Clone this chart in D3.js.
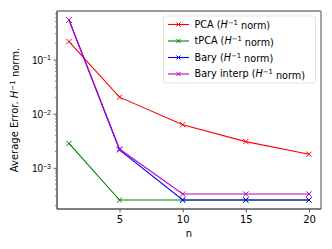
<!DOCTYPE html>
<html><head><meta charset="utf-8">
<script src="https://cdn.jsdelivr.net/npm/d3@7"></script>
<style>
body{margin:0;background:#fff}
svg{font-family:"DejaVu Sans",sans-serif}
</style></head>
<body>
<svg id="c" width="332" height="249"></svg>
<script>
const nValues = [1, 5, 10, 15, 20];
const pca = [0.215, 0.0202, 0.00626, 0.00305, 0.00178];
const tpca = [0.00282, 0.000254, 0.000254, 0.000254, 0.000254];
const bary = [0.538, 0.00215, 0.000254, 0.000254, 0.000254];
const baryInterp = [0.538, 0.00222, 0.000328, 0.000328, 0.000328];
const xTicks = [5, 10, 15, 20];
const yTicks = [1e-3, 1e-2, 1e-1];
const seriesNames = ["PCA", "tPCA", "Bary", "Bary interp"];
const seriesColors = ["#ff0000", "#008000", "#0000ff", "#bf00bf"];
const seriesData = [pca, tpca, bary, baryInterp];

const svg = d3.select("#c");
const L = 57, R = 321, T = 11, B = 209;
const x = d3.scaleLinear().domain([0.05, 20.95]).range([L, R]);
const y = d3.scaleLog().domain([Math.pow(10, -3.761), Math.pow(10, -0.103)]).range([B, T]);

// x axis
const gx = svg.append("g").attr("transform", `translate(0,${B})`)
  .call(d3.axisBottom(x).tickValues(xTicks).tickSize(3.5).tickPadding(3).tickFormat(d3.format("d")));
gx.select(".domain").remove();
gx.selectAll("line").attr("stroke", "#333").attr("stroke-width", 0.8);
gx.selectAll("text").attr("font-size", 10).attr("fill", "#000").attr("font-family", "DejaVu Sans");

// y axis major
const gy = svg.append("g").attr("transform", `translate(${L},0)`)
  .call(d3.axisLeft(y).tickValues(yTicks).tickSize(3.5).tickPadding(3).tickFormat(""));
gy.select(".domain").remove();
gy.selectAll("line").attr("stroke", "#333").attr("stroke-width", 0.8);
gy.selectAll(".tick").each(function(d){
  const e = Math.round(Math.log10(d));
  const t = d3.select(this).append("text").attr("x", -6).attr("dy", "0.35em")
    .attr("text-anchor", "end").attr("fill", "#000").attr("font-size", 10);
  t.append("tspan").text("10");
  t.append("tspan").attr("dy", "-0.45em").attr("font-size", 7).text("\u2212" + Math.abs(e));
});
// minor ticks
const minor = [];
for (let e = -4; e <= 0; e++) for (let m = 2; m <= 9; m++) {
  const v = m * Math.pow(10, e);
  if (v >= y.domain()[0] && v <= y.domain()[1]) minor.push(v);
}
svg.append("g").selectAll("line").data(minor).join("line")
  .attr("x1", L - 2).attr("x2", L).attr("y1", d => y(d)).attr("y2", d => y(d))
  .attr("stroke", "#333").attr("stroke-width", 0.6);

// spines
svg.append("line").attr("x1", L).attr("x2", R).attr("y1", T).attr("y2", T).attr("stroke", "#999").attr("stroke-width", 1.8);
svg.append("line").attr("x1", R).attr("x2", R).attr("y1", T).attr("y2", B).attr("stroke", "#999").attr("stroke-width", 1.8);
svg.append("line").attr("x1", L).attr("x2", R).attr("y1", B).attr("y2", B).attr("stroke", "#555").attr("stroke-width", 1.5);
svg.append("line").attr("x1", L).attr("x2", L).attr("y1", T).attr("y2", B).attr("stroke", "#555").attr("stroke-width", 1.5);

// lines
const line = d3.line().x((d, i) => x(nValues[i])).y(d => y(d));
const marker = (g, cx, cy, col) => {
  const s = 2.6;
  g.append("path").attr("d", `M${cx-s},${cy-s}L${cx+s},${cy+s}M${cx-s},${cy+s}L${cx+s},${cy-s}`)
    .attr("stroke", col).attr("stroke-width", 1).attr("fill", "none");
};
seriesData.forEach((data, k) => {
  const g = svg.append("g");
  g.append("path").attr("d", line(data)).attr("fill", "none")
    .attr("stroke", seriesColors[k]).attr("stroke-width", 1.1);
  data.forEach((v, i) => marker(g, x(nValues[i]), y(v), seriesColors[k]));
});

// labels
svg.append("text").attr("x", (L + R) / 2 + 0).attr("y", 237).attr("text-anchor", "middle")
  .attr("font-size", 10).text("n");
const yl = svg.append("text").attr("transform", `translate(18,${(T + B) / 2}) rotate(-90)`)
  .attr("text-anchor", "middle").attr("font-size", 10);
yl.append("tspan").text("Average Error. ");
yl.append("tspan").attr("font-style", "italic").text("H");
yl.append("tspan").attr("dy", "-0.45em").attr("font-size", 7).text("\u22121");
yl.append("tspan").attr("dy", "0.45em").text(" norm.");

// legend
const lg = svg.append("g");
lg.append("rect").attr("x", 163.5).attr("y", 16).attr("width", 152).attr("height", 67).attr("rx", 2)
  .attr("fill", "#fff").attr("fill-opacity", 0.8).attr("stroke", "#ddd").attr("stroke-width", 0.8);
seriesNames.forEach((name, k) => {
  const yy = 24.5 + k * 16.5;
  lg.append("line").attr("x1", 168).attr("x2", 189).attr("y1", yy).attr("y2", yy)
    .attr("stroke", seriesColors[k]).attr("stroke-width", 1.1);
  const s = 2;
  lg.append("path").attr("d", `M${178.5-s},${yy-s}L${178.5+s},${yy+s}M${178.5-s},${yy+s}L${178.5+s},${yy-s}`)
    .attr("stroke", seriesColors[k]).attr("stroke-width", 1);
  const t = lg.append("text").attr("x", 194.5).attr("y", yy).attr("dy", "0.35em").attr("font-size", 9.7);
  t.append("tspan").text(name + " (");
  t.append("tspan").attr("font-style", "italic").text("H");
  t.append("tspan").attr("dy", "-0.45em").attr("font-size", 6.8).text("\u22121");
  t.append("tspan").attr("dy", "0.45em").text(" norm)");
});
</script>
</body></html>
